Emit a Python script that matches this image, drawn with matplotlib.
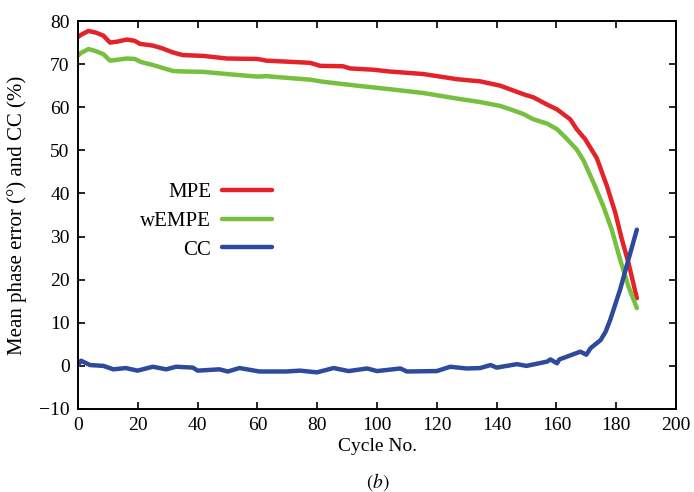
import numpy as np
import matplotlib
matplotlib.use('Agg')
import matplotlib.pyplot as plt

plt.rcParams['font.family'] = ['Liberation Serif', 'DejaVu Serif']
plt.rcParams['mathtext.fontset'] = 'stix'

# values
cyc_mpe = [0, 1, 3.5, 6, 8.5, 10.7, 13, 16.3, 19, 20.7, 25, 28, 31.8, 35, 42, 49.8, 60, 63,
           72, 77.6, 81, 88.6, 91, 98.8, 104, 115.5, 126.8, 134.5, 141.2, 145.5, 149, 152.3,
           156.9, 160.2, 164.6, 166.8, 169.6, 173.5, 176.9, 179.7, 181.9, 184.1, 186.9]
mpe = [76.3, 76.8, 77.7, 77.3, 76.6, 75.0, 75.2, 75.7, 75.4, 74.7, 74.3, 73.7, 72.7, 72.1,
       71.9, 71.3, 71.2, 70.8, 70.5, 70.3, 69.6, 69.5, 69.0, 68.7, 68.3, 67.7, 66.5, 66.0,
       65.0, 63.9, 63.0, 62.3, 60.6, 59.5, 57.2, 54.9, 52.6, 48.2, 41.7, 35.5, 29.3, 23.9,
       15.7]

cyc_wempe = [0, 1, 3.5, 6, 8.5, 10.7, 13, 16.3, 19, 21, 25, 31.8, 35, 42, 49.8, 60, 63, 72,
             77.6, 82, 93.3, 104, 115.5, 126.8, 134.5, 141.2, 145.5, 149, 152.3, 156.9,
             160.2, 163, 166.8, 169.1, 172.4, 175.7, 178.5, 181.3, 184.1, 186.9]
wempe = [72.0, 72.6, 73.5, 73.0, 72.3, 70.8, 71.0, 71.3, 71.2, 70.5, 69.8, 68.4, 68.3, 68.2,
         67.7, 67.1, 67.2, 66.7, 66.4, 65.9, 65.0, 64.2, 63.3, 62.0, 61.2, 60.3, 59.3, 58.4,
         57.2, 56.2, 54.9, 53.0, 50.2, 47.6, 42.5, 37.0, 31.6, 24.7, 18.4, 13.4]

cyc_cc = [0, 1, 4, 8.5, 11.8, 16, 19.9, 25, 29.5, 32.8, 38.4, 40, 47.3, 50.1, 54, 60.7, 69.6,
          74.3, 79.9, 85.5, 90.5, 96.7, 100, 107.8, 110, 120, 124.5, 130, 134.5, 138, 140,
          146.8, 150, 156.9, 158, 160.2, 161, 168, 170, 171.4, 174.8, 176.5, 178, 181.3,
          184.1, 186.9]
cc = [0.2, 1.2, 0.2, 0.0, -0.8, -0.5, -1.1, -0.2, -0.8, -0.2, -0.4, -1.1, -0.8, -1.3, -0.5,
      -1.3, -1.3, -1.1, -1.5, -0.5, -1.2, -0.6, -1.2, -0.6, -1.3, -1.2, -0.2, -0.6, -0.5,
      0.2, -0.4, 0.4, 0.0, 1.0, 1.5, 0.6, 1.5, 3.3, 2.6, 4.1, 6.0, 8.0, 10.7, 17.7, 24.7,
      31.6]

fig = plt.figure(figsize=(6.94, 4.92), dpi=100)
ax = fig.add_axes([0.1124, 0.1687, 0.8617, 0.7886])

ax.plot(cyc_mpe, mpe, color='#e32229', lw=3.2, label='MPE', solid_capstyle='round')
ax.plot(cyc_wempe, wempe, color='#77bf3f', lw=3.2, label='wEMPE', solid_capstyle='round')
ax.plot(cyc_cc, cc, color='#2f4a9c', lw=3.2, label='CC', solid_capstyle='round')

ax.set_xlim(0, 200)
ax.set_ylim(-10, 80)
ax.set_xticks(np.arange(0, 201, 20))
ax.set_yticks(np.arange(-10, 81, 10))
ax.tick_params(direction='in', top=True, right=True, labelsize=14, length=5, width=1.2,
               pad=6)
for s in ax.spines.values():
    s.set_linewidth(1.4)

ax.set_xlabel('Cycle No.', fontsize=14, labelpad=3)
ax.set_ylabel('Mean phase error (°) and CC (%)', fontsize=15, labelpad=9)

ax.legend(loc='center right', bbox_to_anchor=(0.324, 0.4845), frameon=False,
          markerfirst=False, fontsize=15, handlelength=2.4, handletextpad=0.5,
          labelspacing=0.45, borderpad=0, borderaxespad=0)

fig.text(0.545, 0.02, '$(b)$', fontsize=14, ha='center', va='center')

fig.savefig('out.png', dpi=100)
